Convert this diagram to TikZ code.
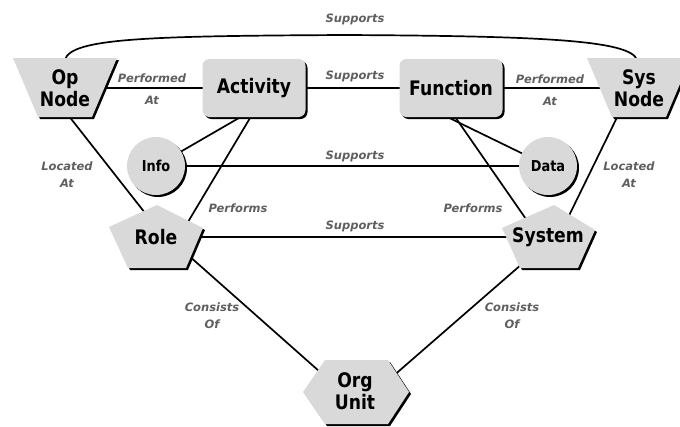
\documentclass[tikz,border=0pt]{standalone}
\usepackage{fontspec}
\usetikzlibrary{calc,shadows}
\newfontfamily\nodefont{DejaVu Sans}[FakeStretch=0.86]
\newfontfamily\lblfont{DejaVu Sans}
\definecolor{shapegray}{RGB}{217,217,217}
\definecolor{lblgray}{RGB}{95,95,95}
\pgfdeclarelayer{bg}
\pgfdeclarelayer{shp}
\pgfsetlayers{bg,shp,main}
\tikzset{
 conn/.style={line width=1.7pt, draw=black},
 shd/.style={drop shadow={opacity=1, shadow xshift=2pt, shadow yshift=-2pt, fill=black}},
 base/.style={fill=shapegray, shd, inner sep=0pt, align=center,
   font=\nodefont\bfseries\fontsize{20}{22}\selectfont},
 box/.style={base, shape=rectangle, rounded corners=7pt, minimum width=103pt, minimum height=58pt},
 circ/.style={base, shape=circle, minimum size=58pt, font=\nodefont\bfseries\fontsize{15}{18}\selectfont},
 txt/.style={inner sep=0pt, align=center, font=\nodefont\bfseries\fontsize{20}{22}\selectfont},
 polyfill/.style={fill=shapegray, shd},
 lbl/.style={inner sep=0pt, align=center, text=lblgray,
   font=\lblfont\bfseries\itshape\fontsize{11.5}{17}\selectfont},
}
\begin{document}
\begin{tikzpicture}[x=1pt,y=-1pt]
\useasboundingbox (0,0) rectangle (680,426);

% shapes with text
\node[txt] (op)  at (65,88)  {Op\\Node};
\node[txt] (sys) at (639,88) {Sys\\Node};
\node[box]  (act) at (254,88) {Activity};
\node[box]  (fun) at (451,88) {Function};
\node[circ] (info) at (156,166) {Info};
\node[circ] (data) at (548,166) {Data};
\node[txt] (role)   at (156,237) {Role};
\node[txt] (system) at (548,237) {System};
\node[txt] (org)    at (355,391) {Org\\Unit};

% polygon fills under text
\begin{pgfonlayer}{shp}
\fill[polyfill, shift={(op.center)}] (-52,-30) -- (52,-30) -- (27,29) -- (-27,29) -- cycle;
\fill[polyfill, shift={(sys.center)}] (-52,-30) -- (52,-30) -- (27,29) -- (-27,29) -- cycle;
\fill[polyfill, shift={(role.center)}] (1,-32) -- (47,-9) -- (30,31) -- (-28,31) -- (-47,-10) -- cycle;
\fill[polyfill, shift={(system.center)}] (6,-32) -- (47,-7) -- (30,31) -- (-28,31) -- (-46,-9) -- cycle;
\fill[polyfill, shift={(org.center)}] (-52,1) -- (-30,-31) -- (33,-31) -- (54,1) -- (33,33) -- (-30,33) -- cycle;
\end{pgfonlayer}

% connectors
\begin{pgfonlayer}{bg}
\draw[conn] ($(op.center)+(0,-28)$) .. controls ($(op.center)+(5,-50)$) and (150,36) .. (345,35)
  .. controls (540,36) and ($(sys.center)+(-8,-48)$) .. ($(sys.center)+(-2,-28)$);
\draw[conn] (op.center) -- (act.center);
\draw[conn] (act.center) -- (fun.center);
\draw[conn] (fun.center) -- (sys.center);
\draw[conn] (info.center) -- (data.center);
\draw[conn] (role.center) -- (system.center);
\draw[conn] (info.center) -- ($(act.center)+(-3,23)$);
\draw[conn] ($(role.center)+(26,-5)$) -- ($(act.center)+(2,20)$);
\draw[conn] ($(op.center)+(-4,18)$) -- ($(role.center)+(4,-5)$);
\draw[conn] ($(fun.center)+(-18,22)$) -- (data.center);
\draw[conn] ($(fun.center)+(-7,13)$) -- ($(system.center)+(-13,-5)$);
\draw[conn] ($(sys.center)+(-13,11)$) -- ($(system.center)+(13,-5)$);
\draw[conn] ($(role.center)+(23,10)$) -- ($(org.center)+(-18,-4)$);
\draw[conn] ($(system.center)+(-18,20)$) -- ($(org.center)+(21,0)$);
\end{pgfonlayer}

% labels
\node[lbl] (lsup1) at (355,19) {Supports};
\node[lbl] (lsup2) at (355,76) {Supports};
\node[lbl] (lsup3) at (355,156) {Supports};
\node[lbl] (lsup4) at (355,226) {Supports};
\node[lbl] (lpa1) at (152,89) {Performed\\[5pt]At};
\node[lbl] (lpa2) at (550,90) {Performed\\[5pt]At};
\node[lbl] (lla1) at (67,175) {Located\\At};
\node[lbl] (lla2) at (629,175) {Located\\At};
\node[lbl] (lpf1) at (238,208) {Performs};
\node[lbl] (lpf2) at (473,208) {Performs};
\node[lbl] (lco1) at (212,316) {Consists\\Of};
\node[lbl] (lco2) at (512,316) {Consists\\Of};
\end{tikzpicture}
\end{document}
